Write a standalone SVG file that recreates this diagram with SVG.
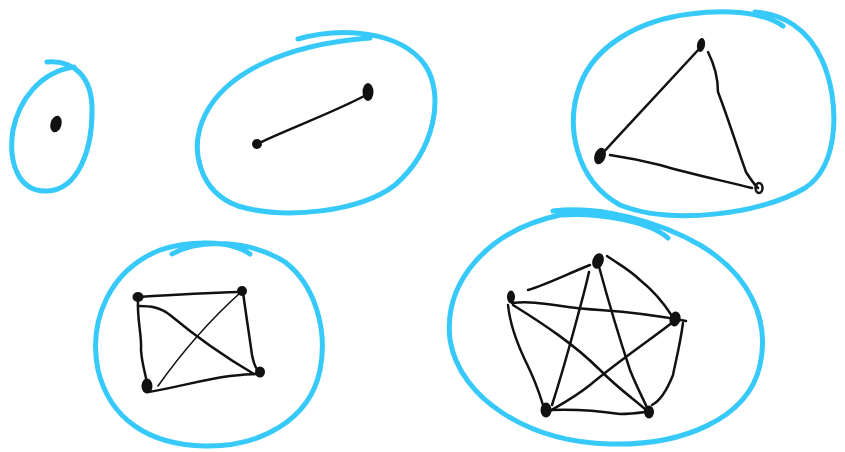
<svg xmlns="http://www.w3.org/2000/svg" width="845" height="452" viewBox="0 0 845 452">
<style>
.hull{fill:none;stroke:#36c9fa;stroke-width:5;stroke-linecap:round;stroke-linejoin:round}
.edge{fill:none;stroke:#111;stroke-width:2.5;stroke-linecap:round;stroke-linejoin:round}
.thin{stroke-width:1.6}
.node{fill:#111}
</style>
<rect width="845" height="452" fill="#fff"/>
<g id="hulls">
<path class="hull" d="M47,62 C72,60 93,75 92,112 C92,150 78,190 47,191 C18,192 8,162 13,130 C19,100 40,72 74,67"/>
<path class="hull" d="M298,39 C340,27 400,30 425,65 C445,95 435,150 395,185 C360,212 285,220 238,206 C200,192 188,150 205,115 C225,75 280,45 370,38"/>
<path class="hull" d="M783,26 C760,10 720,10 690,14 C640,20 595,45 580,85 C565,125 575,180 620,205 C670,225 760,215 805,188 C840,165 840,100 822,60 C808,28 782,14 755,12"/>
<path class="hull" d="M172,254 C200,238 250,240 285,262 C315,285 328,330 320,370 C310,420 260,447 205,446 C150,445 110,420 98,370 C88,320 110,270 160,250 C190,240 230,240 250,254"/>
<path class="hull" d="M553,211 C600,205 660,222 700,245 C750,275 770,320 760,365 C748,420 680,446 610,444 C530,442 460,400 450,340 C443,280 490,230 560,215 C600,212 650,222 668,238"/>
</g>
<g id="connectors">
<path class="edge" d="M257,144 C290,128 335,112 368,94"/>
<path class="edge" d="M700,48 C670,80 635,118 601,155"/>
<path class="edge" d="M708,52 C716,68 718,82 718,92 C728,118 738,150 746,172 C751,180 755,185 758,188"/>
<path class="edge" d="M610,155 C630,158 640,160 660,165 C690,174 720,180 752,188"/>
<path class="edge" d="M138,297 C170,295 205,293 239,292"/>
<path class="edge" d="M138,300 C137,320 142,335 141,350 C142,365 146,375 147,384"/>
<path class="edge" d="M243,292 C246,315 250,340 252,355 C254,365 257,370 259,372"/>
<path class="edge" d="M148,392 C175,388 200,380 230,376 C240,375 250,374 258,374"/>
<path class="edge" d="M139,306 C150,306 160,307 170,315 C200,340 230,360 254,374"/>
<path class="edge thin" d="M240,293 C210,320 180,355 158,386"/>
<path class="edge" d="M590,265 C565,275 545,285 528,290"/>
<path class="edge" d="M607,256 C620,265 630,270 640,280 C655,292 665,305 672,316"/>
<path class="edge" d="M589,272 C585,290 582,300 578,315 C570,345 560,380 552,405"/>
<path class="edge" d="M598,263 C608,300 620,340 630,370 C638,390 644,400 648,410"/>
<path class="edge" d="M512,303 C540,300 560,308 600,310 C630,312 660,316 686,321"/>
<path class="edge" d="M513,305 C545,325 575,345 600,370 C620,390 635,400 646,410"/>
<path class="edge" d="M508,305 C510,325 518,345 525,360 C535,380 540,395 543,405"/>
<path class="edge" d="M673,322 C650,340 620,360 590,385 C575,397 560,405 550,411"/>
<path class="edge" d="M683,323 C680,345 676,360 673,375 C665,395 658,402 652,405"/>
<path class="edge" d="M550,410 C575,409 600,411 620,414 C630,414 638,413 645,412"/>
</g>
<g id="k1-n1"><ellipse class="node" cx="56" cy="124" rx="5.5" ry="8.5" transform="rotate(15 56 124)"/></g>
<g id="k2-n1"><ellipse class="node" cx="257" cy="144" rx="5" ry="5"/></g>
<g id="k2-n2"><ellipse class="node" cx="368" cy="92" rx="5.5" ry="9"/></g>
<g id="k3-n1"><ellipse class="node" cx="701" cy="45" rx="4" ry="7" transform="rotate(10 701 45)"/></g>
<g id="k3-n2"><ellipse class="node" cx="600" cy="156" rx="5.5" ry="8.5" transform="rotate(20 600 156)"/></g>
<g id="k3-n3"><ellipse cx="759" cy="188" rx="3.5" ry="5" fill="none" stroke="#111" stroke-width="2.5"/></g>
<g id="k4-n1"><ellipse class="node" cx="138" cy="297" rx="5.5" ry="5"/></g>
<g id="k4-n2"><ellipse class="node" cx="242" cy="291" rx="5" ry="5"/></g>
<g id="k4-n3"><ellipse class="node" cx="260" cy="372" rx="5" ry="5.5"/></g>
<g id="k4-n4"><ellipse class="node" cx="147" cy="386" rx="5.5" ry="7.5"/></g>
<g id="k5-n1"><ellipse class="node" cx="598" cy="261" rx="5.5" ry="8" transform="rotate(20 598 261)"/></g>
<g id="k5-n2"><ellipse class="node" cx="511" cy="297" rx="4" ry="6.5"/></g>
<g id="k5-n3"><ellipse class="node" cx="675" cy="319" rx="5.5" ry="7.5" transform="rotate(15 675 319)"/></g>
<g id="k5-n4"><ellipse class="node" cx="546" cy="410" rx="5.5" ry="7.5"/></g>
<g id="k5-n5"><ellipse class="node" cx="649" cy="412" rx="5" ry="6.5"/></g>
</svg>
